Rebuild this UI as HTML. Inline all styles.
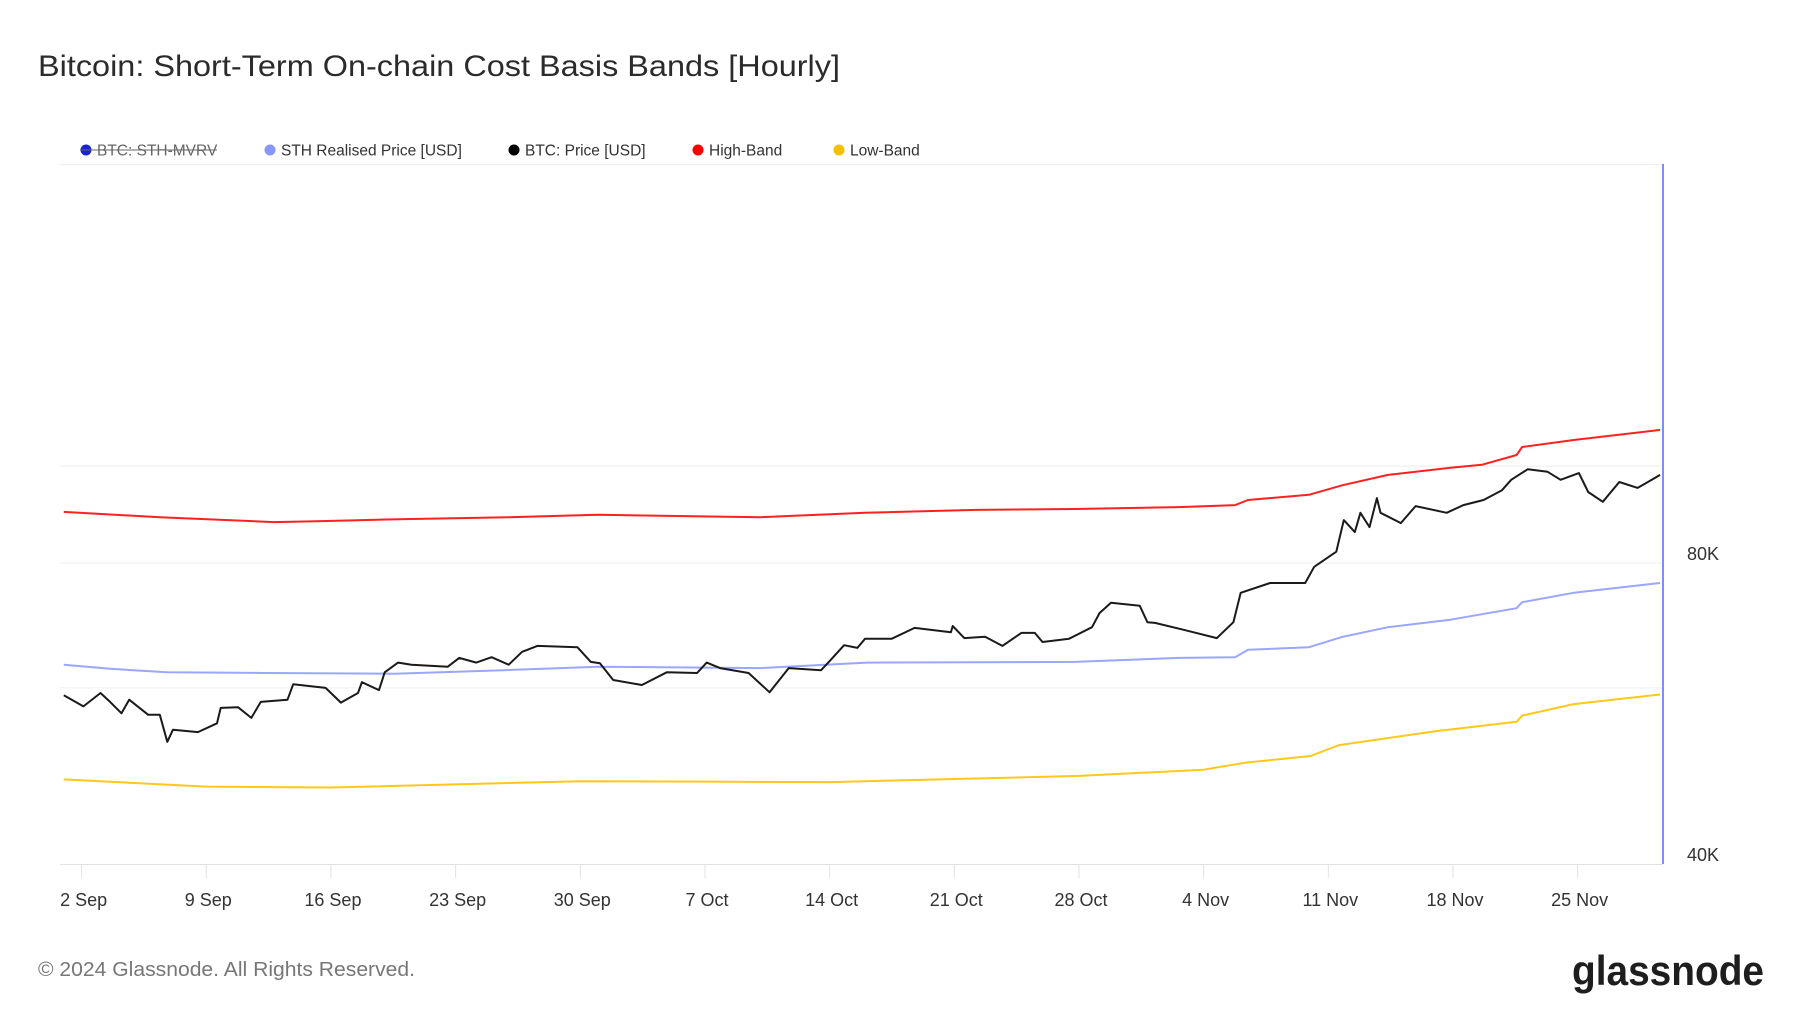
<!DOCTYPE html>
<html><head><meta charset="utf-8">
<style>
body{margin:0;background:#fff;width:1800px;height:1013px;overflow:hidden;font-family:"Liberation Sans",sans-serif;}
svg{position:absolute;left:0;top:0}
</style></head>
<body>
<svg id="chart" width="1800" height="1013">
<text x="38" y="76" font-size="30" fill="#2b2b2b" textLength="802" lengthAdjust="spacingAndGlyphs">Bitcoin: Short-Term On-chain Cost Basis Bands [Hourly]</text>
<g font-size="15.5" fill="#333">
<g><circle cx="86" cy="150" r="5.5" fill="#1a22d6"/><text x="97" y="155.5" fill="#666">BTC: STH-MVRV</text><line x1="80" y1="150" x2="217" y2="150" stroke="#666" stroke-width="1"/></g>
<g><circle cx="270" cy="150" r="5.5" fill="#8797ff"/><text x="281" y="155.5">STH Realised Price [USD]</text></g>
<g><circle cx="514" cy="150" r="5.5" fill="#000"/><text x="525" y="155.5">BTC: Price [USD]</text></g>
<g><circle cx="698" cy="150" r="5.5" fill="#f00"/><text x="709" y="155.5">High-Band</text></g>
<g><circle cx="839" cy="150" r="5.5" fill="#f5c000"/><text x="850" y="155.5">Low-Band</text></g>
</g>
<line x1="60" y1="164.5" x2="1663" y2="164.5" stroke="#eee"/>
<g id="grid"></g>
<g id="xaxis"></g>
<g id="yaxis"></g>
<g id="series"></g>
<line x1="1663" y1="164" x2="1663" y2="864" stroke="#7d8cff" stroke-width="2"/>
<text x="38" y="976" font-size="20" fill="#777" textLength="377" lengthAdjust="spacingAndGlyphs">© 2024 Glassnode. All Rights Reserved.</text>
<text x="1572" y="985" font-size="42" font-weight="bold" fill="#1e1e1e" textLength="192" lengthAdjust="spacingAndGlyphs">glassnode</text>
</svg>
<script>
const xTickLabels=["2 Sep","9 Sep","16 Sep","23 Sep","30 Sep","7 Oct","14 Oct","21 Oct","28 Oct","4 Nov","11 Nov","18 Nov","25 Nov"];
const xTickDays=[1,8,15,22,29,36,43,50,57,64,71,78,85];
const yTickVals=[40,80];
const yTickLabels=["40K","80K"];
const gridVals=[60,80,100];
const priceDays=[0,1.10,2.06,2.6,3.24,3.67,4.74,5.39,5.81,6.13,7.53,8.6,8.81,9.78,10.53,11.06,12.56,12.88,14.7,15.56,16.52,16.74,17.7,18.02,18.77,19.52,21.56,22.2,23.16,24.02,24.98,25.73,26.59,28.84,29.59,30.1,30.85,32.46,33.85,35.56,36.1,36.85,38.45,39.63,40.7,42.52,43.06,43.81,44.56,44.99,46.49,47.77,49.81,49.91,50.56,51.73,52.7,53.77,54.52,54.95,56.45,57.73,58.16,58.8,60.41,60.84,61.27,62.88,64.74,65.67,66.08,67.73,69.7,70.21,71.45,71.87,72.49,72.8,73.31,73.73,73.93,75.07,75.9,77.65,78.58,79.72,80.75,81.27,82.2,83.31,84.04,85.07,85.59,86.41,87.34,88.37,89.63];
const priceVals=[59.0,57.5,59.3,58.1,56.6,58.4,56.4,56.4,53.0,54.5,54.2,55.3,57.3,57.4,56.0,58.1,58.4,60.5,60.0,58.0,59.3,60.8,59.7,62.2,63.6,63.3,63.0,64.3,63.6,64.4,63.3,65.2,66.1,65.9,63.7,63.5,61.1,60.4,62.2,62.1,63.6,62.8,62.1,59.4,62.8,62.5,64.0,66.2,65.8,67.2,67.2,68.9,68.2,69.2,67.3,67.5,66.1,68.1,68.1,66.7,67.2,69.0,71.3,73.0,72.5,69.8,69.7,68.6,67.3,69.8,74.7,76.4,76.4,79.3,82.1,88.3,85.9,89.8,86.9,92.9,89.8,87.7,91.2,89.8,91.4,92.5,94.6,96.9,99.3,98.7,96.9,98.4,94.2,92.1,96.4,95.1,98.0];
const highDays=[0,5.39,11.81,14.49,18.77,24.98,30,39.1,44.99,51.2,56.77,62.6,65.77,66.49,69.91,71.8,74.35,77.86,79.61,81.57,81.88,84.78,89.63];
const highVals=[90.0,88.9,87.9,88.1,88.5,88.9,89.4,88.9,89.8,90.4,90.6,91.0,91.4,92.5,93.6,95.7,98.0,99.6,100.3,102.6,104.5,106.2,108.7];
const sthDays=[0,2.6,5.81,11.28,18.56,24.66,30,39.1,45.1,56.77,62.6,65.77,66.49,69.91,71.8,74.35,77.86,81.57,81.88,84.78,89.63];
const sthVals=[63.3,62.7,62.2,62.1,62.0,62.5,63.0,62.8,63.6,63.7,64.3,64.4,65.5,65.9,67.5,69.0,70.2,72.1,73.1,74.7,76.4];
const lowDays=[0,8,15,29,43,57,64,66.3,70,71.6,77,81.57,81.88,84.78,89.63];
const lowVals=[48.6,47.8,47.7,48.4,48.3,49.0,49.7,50.5,51.3,52.6,54.3,55.5,56.3,57.8,59.1];

const NS="http://www.w3.org/2000/svg";
const xs=d=>63.8+17.81*d;
const ys=v=>864-301*Math.log2(v/40);
function mk(tag,attrs,parent){const e=document.createElementNS(NS,tag);for(const k in attrs)e.setAttribute(k,attrs[k]);parent.appendChild(e);return e;}
const grid=document.getElementById('grid');
gridVals.forEach(v=>{const l=mk('line',{x1:60,x2:1663,y1:ys(v),y2:ys(v),stroke:'#eeeeee'},grid);

});
const xa=document.getElementById('xaxis');
const base=mk('line',{x1:60,x2:1663,y1:864.5,y2:864.5,stroke:'#e2e2e2'},xa);


xTickDays.forEach((d,i)=>{const t=mk('line',{x1:xs(d),x2:xs(d),y1:864,y2:878,stroke:'#e2e2e2'},xa);


const lb=mk('text',{x:xs(d)+2,y:906,'font-size':18,fill:'#333','text-anchor':'middle'},xa);lb.textContent=xTickLabels[i];

});
const ya=document.getElementById('yaxis');
yTickVals.forEach((v,i)=>{const lb=mk('text',{x:1687,y:ys(v)-3,'font-size':18,fill:'#333'},ya);lb.textContent=yTickLabels[i];

});
const sg=document.getElementById('series');
function line(days,vals,color,w,name){const d=days.map((x,i)=>(i?'L':'M')+xs(x).toFixed(1)+','+ys(vals[i]).toFixed(1)).join('');
const p=mk('path',{d:d,fill:'none',stroke:color,'stroke-width':w,'stroke-linejoin':'round'},sg);

}
line(highDays,highVals,'#ff2020',2,'high-band-line');
line(sthDays,sthVals,'#9aa6ff',2,'sth-realised-price-line');
line(lowDays,lowVals,'#ffc81a',2,'low-band-line');
line(priceDays,priceVals,'#1a1a1a',2,'btc-price-line');
</script>
</body></html>
